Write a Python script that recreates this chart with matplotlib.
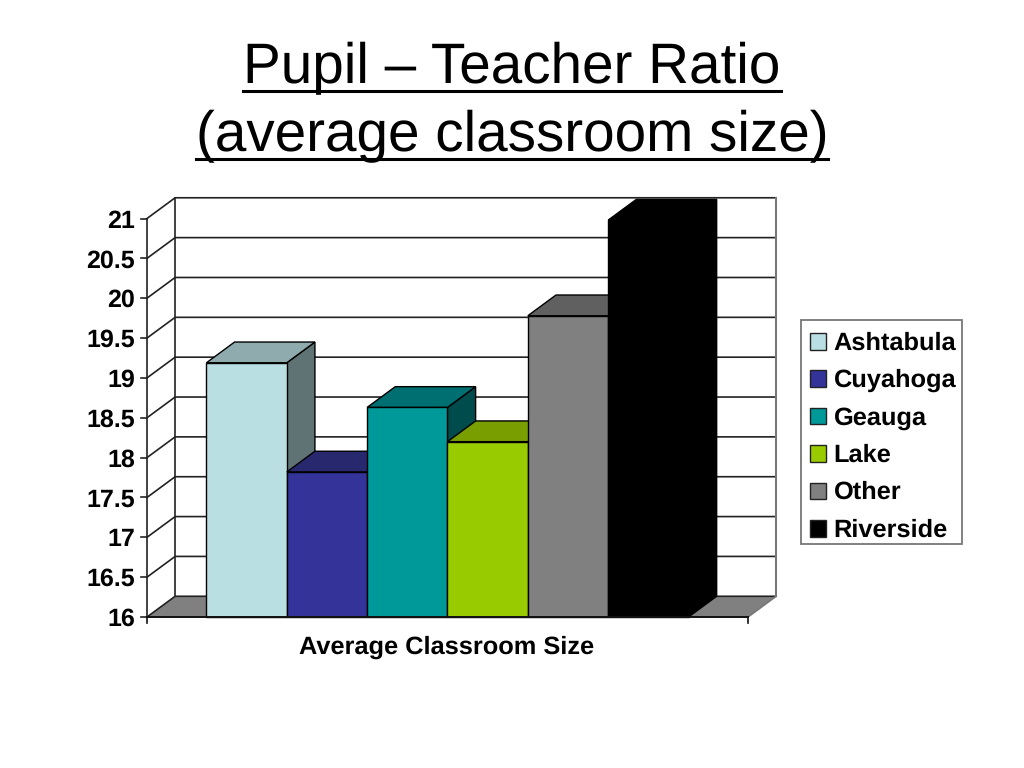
import matplotlib
matplotlib.use("Agg")
import matplotlib.pyplot as plt
from matplotlib.lines import Line2D
from matplotlib.patches import Rectangle

plt.rcParams['font.family'] = ['Liberation Sans', 'DejaVu Sans']
plt.rcParams['text.hinting'] = 'no_hinting'

# values
regions = ['Ashtabula', 'Cuyahoga', 'Geauga', 'Lake', 'Other', 'Riverside']
sizes = [19.19, 17.82, 18.63, 18.2, 19.78, 20.98]
y_ticks = [16, 16.5, 17, 17.5, 18, 18.5, 19, 19.5, 20, 20.5, 21]
y_tick_labels = ['16', '16.5', '17', '17.5', '18', '18.5', '19', '19.5', '20', '20.5', '21']

# colours for each bar: front, top, side
front_colors = ['#B9DFE3', '#333399', '#009999', '#99CC00', '#808080', '#000000']
top_colors = ['#8FABAD', '#28286F', '#006F71', '#789E00', '#606060', '#000000']
side_colors = ['#5F7375', '#1A1A4D', '#004C4D', '#4D6600', '#404040', '#000000']

W, H = 1024, 768
fig = plt.figure(figsize=(W / 100, H / 100), dpi=100, facecolor='white')

# axes covers the front plane of the fake 3D box
left, right, bottom, top = 147, 748, 617, 218.5
x0, x1 = -0.74, 6.74
ax = fig.add_axes([left / W, 1 - bottom / H, (right - left) / W, (bottom - top) / H])
ax.set_xlim(x0, x1)
ax.set_ylim(16, 21)
ax.axis('off')

# depth of the box in data units
dx = 0.35
dy = 0.26
edge = '#222222'
wall = '#777777'

# floor
ax.fill([x0, x1, x1 + dx, x0 + dx], [16, 16, 16 + dy, 16 + dy], color='#808080', lw=0, clip_on=False, zorder=1)

# gridlines on left wall and back wall
for t in y_ticks:
    ax.plot([x0, x0 + dx, x1 + dx], [t, t + dy, t + dy], color=edge, lw=1.2, clip_on=False, zorder=2)
    ax.plot([x0 - 0.07, x0], [t, t], color=edge, lw=1.2, clip_on=False, zorder=2)
ax.plot([x0, x0], [16, 21], color=edge, lw=1.2, zorder=2, clip_on=False)
ax.plot([x0 + dx, x0 + dx], [16 + dy, 21 + dy], color=edge, lw=1.2, zorder=2, clip_on=False)
ax.plot([x1 + dx, x1 + dx], [16 + dy, 21 + dy], color=wall, lw=1.5, zorder=2, clip_on=False)
ax.plot([x1, x1 + dx], [16, 16 + dy], color=wall, lw=1.2, zorder=2, clip_on=False)

# bars, left to right so each one covers the side of the one before
z = 3
for i, v in enumerate(sizes):
    xa, xb = i, i + 1
    ax.fill([xb, xb + dx, xb + dx, xb], [16, 16 + dy, v + dy, v],
            facecolor=side_colors[i], edgecolor='#000000', lw=1, clip_on=False, zorder=z)
    ax.fill([xa, xa + dx, xb + dx, xb], [v, v + dy, v + dy, v],
            facecolor=top_colors[i], edgecolor='#000000', lw=1, clip_on=False, zorder=z)
    ax.bar(xa + 0.5, v - 16, width=1, bottom=16, color=front_colors[i], edgecolor='#000000', lw=1,
           clip_on=False, zorder=z + 1)
    z += 2

# front axis lines
ax.plot([x0, x1], [16, 16], color='#111111', lw=1.4, clip_on=False, zorder=20)
ax.plot([x0, x0], [16, 15.925], color='#111111', lw=1.2, clip_on=False, zorder=20)
ax.plot([x1, x1], [16, 15.925], color='#111111', lw=1.2, clip_on=False, zorder=20)

# tick labels
for t, lab in zip(y_ticks, y_tick_labels):
    ax.annotate(lab, (x0, t), xytext=(-12 * 0.72, -6.5), textcoords='offset points', ha='right', va='baseline',
                fontsize=18, fontweight='bold', color='black', annotation_clip=False)

fig.text(447 / W, 1 - 647 / H, 'Average Classroom Size', ha='center', va='center',
         fontsize=18.3, fontweight='bold', color='black')

# title, underlined by hand since text has no underline option
title_lines = [('Pupil \u2013 Teacher Ratio', 68, 91), ('(average classroom size)', 136, 159)]
fig.canvas.draw()
renderer = fig.canvas.get_renderer()
for s, yc, yu in title_lines:
    t = fig.text(512 / W, 1 - yc / H, s, ha='center', va='center', fontsize=40.8, color='black')
    bb = t.get_window_extent(renderer)
    fig.add_artist(Line2D([bb.x0 / W, bb.x1 / W], [1 - yu / H, 1 - yu / H], color='black', lw=2.2))

# legend drawn by hand, the padding in the original is uneven
fig.add_artist(Rectangle((801 / W, 1 - 543.5 / H), 161 / W, 223.5 / H, transform=fig.transFigure,
                         facecolor='white', edgecolor='#777777', lw=1.3))
for i, r in enumerate(regions):
    yc = 341 + 37.4 * i
    fig.add_artist(Rectangle((809.5 / W, 1 - (yc + 8.5) / H), 16.5 / W, 16.5 / H, transform=fig.transFigure,
                             facecolor=front_colors[i], edgecolor='#222222', lw=1))
    fig.text(833.5 / W, 1 - (yc + 8.5) / H, r, ha='left', va='baseline', fontsize=18.3, fontweight='bold', color='black')

fig.savefig('out.png', dpi=100)
